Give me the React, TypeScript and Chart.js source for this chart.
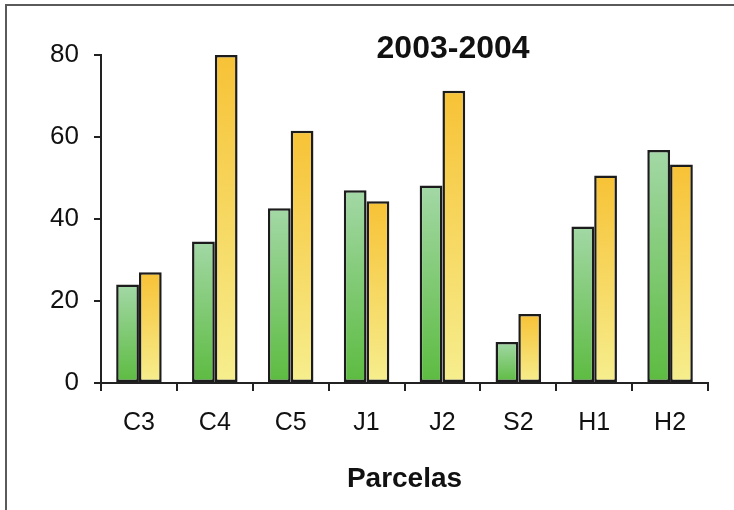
import React, { useEffect, useRef } from "react";
import { Chart, registerables } from "chart.js";

Chart.register(...registerables);

const categories = ["C3", "C4", "C5", "J1", "J2", "S2", "H1", "H2"];
const seriesGreen = [24, 34.5, 42.6, 47, 48.2, 10, 38.2, 56.8];
const seriesYellow = [27, 80, 61.5, 44.3, 71.3, 16.8, 50.6, 53.3];
const yTicks = [0, 20, 40, 60, 80];
const chartTitle = "2003-2004";
const axisTitle = "Parcelas";

const GREEN_TOP = "#a3d8a6";
const GREEN_BOTTOM = "#5cbb40";
const YELLOW_TOP = "#f7c236";
const YELLOW_BOTTOM = "#f6ee8e";

function barGradient(top: string, bottom: string) {
  return (ctx: any) => {
    const chart = ctx.chart;
    const area = chart.chartArea;
    if (!area || ctx.raw == null) return top;
    const yScale = chart.scales.y;
    const yTop = yScale.getPixelForValue(ctx.raw);
    const yBot = yScale.getPixelForValue(0);
    if (!isFinite(yTop) || !isFinite(yBot) || yTop === yBot) return top;
    const g = chart.ctx.createLinearGradient(0, yTop, 0, yBot);
    g.addColorStop(0, top);
    g.addColorStop(1, bottom);
    return g;
  };
}

const titlePlugin = {
  id: "insideTitle",
  afterDraw(chart: any) {
    const { ctx, chartArea } = chart;
    ctx.save();
    ctx.font = "bold 32px 'Liberation Sans', Arial, sans-serif";
    ctx.fillStyle = "#111";
    ctx.textAlign = "center";
    ctx.textBaseline = "middle";
    const x = chartArea.left + (chartArea.right - chartArea.left) * 0.58;
    ctx.fillText(chartTitle, x, chartArea.top - 6);
    ctx.restore();
  },
};

export default function App() {
  const ref = useRef<HTMLCanvasElement | null>(null);

  useEffect(() => {
    if (!ref.current) return;
    const chart = new Chart(ref.current, {
      type: "bar",
      data: {
        labels: categories,
        datasets: [
          {
            data: seriesGreen,
            backgroundColor: barGradient(GREEN_TOP, GREEN_BOTTOM),
            borderColor: "#1c1c1c",
            borderWidth: 2.5,
            borderSkipped: false,
            categoryPercentage: 0.6,
            barPercentage: 1.0,
          },
          {
            data: seriesYellow,
            backgroundColor: barGradient(YELLOW_TOP, YELLOW_BOTTOM),
            borderColor: "#1c1c1c",
            borderWidth: 2.5,
            borderSkipped: false,
            categoryPercentage: 0.6,
            barPercentage: 1.0,
          },
        ],
      },
      options: {
        animation: false,
        responsive: false,
        maintainAspectRatio: false,
        layout: { padding: { left: 0, top: 55, right: 26, bottom: 0 } },
        plugins: {
          legend: { display: false },
          tooltip: { enabled: false },
          title: { display: false },
        },
        scales: {
          x: {
            grid: {
              drawOnChartArea: false,
              drawTicks: true,
              tickLength: 8,
              color: "#222",
              lineWidth: 2,
            },
            border: { color: "#222", width: 2 },
            ticks: {
              color: "#111",
              font: { family: "'Liberation Sans', Arial, sans-serif", size: 25 },
              padding: 17,
              maxRotation: 0,
            },
            title: {
              display: true,
              text: axisTitle,
              color: "#111",
              font: { family: "'Liberation Sans', Arial, sans-serif", size: 28, weight: "bold" },
              padding: { top: 0, bottom: 14 },
            },
            afterFit(scale: any) {
              scale.height = 127;
            },
          },
          y: {
            min: 0,
            max: 80,
            afterBuildTicks(scale: any) {
              scale.ticks = yTicks.map((v) => ({ value: v }));
            },
            grid: {
              drawOnChartArea: false,
              drawTicks: true,
              tickLength: 7,
              color: "#222",
              lineWidth: 2,
            },
            border: { color: "#222", width: 2 },
            ticks: {
              color: "#111",
              font: { family: "'Liberation Sans', Arial, sans-serif", size: 26 },
              padding: 15,
            },
            afterFit(scale: any) {
              scale.width = 101;
            },
          },
        },
      },
      plugins: [titlePlugin],
    });
    return () => chart.destroy();
  }, []);

  return (
    <div style={{ position: "fixed", left: 0, top: 0, width: 734, height: 510, background: "#fff" }}>
      <canvas ref={ref} width={734} height={510} style={{ position: "absolute", left: 0, top: 0 }} />
      <div
        style={{
          position: "absolute",
          left: 5,
          top: 4,
          width: 729,
          height: 506,
          borderTop: "2px solid #5a5a5a",
          borderLeft: "2px solid #5a5a5a",
          boxSizing: "border-box",
          pointerEvents: "none",
        }}
      />
    </div>
  );
}
